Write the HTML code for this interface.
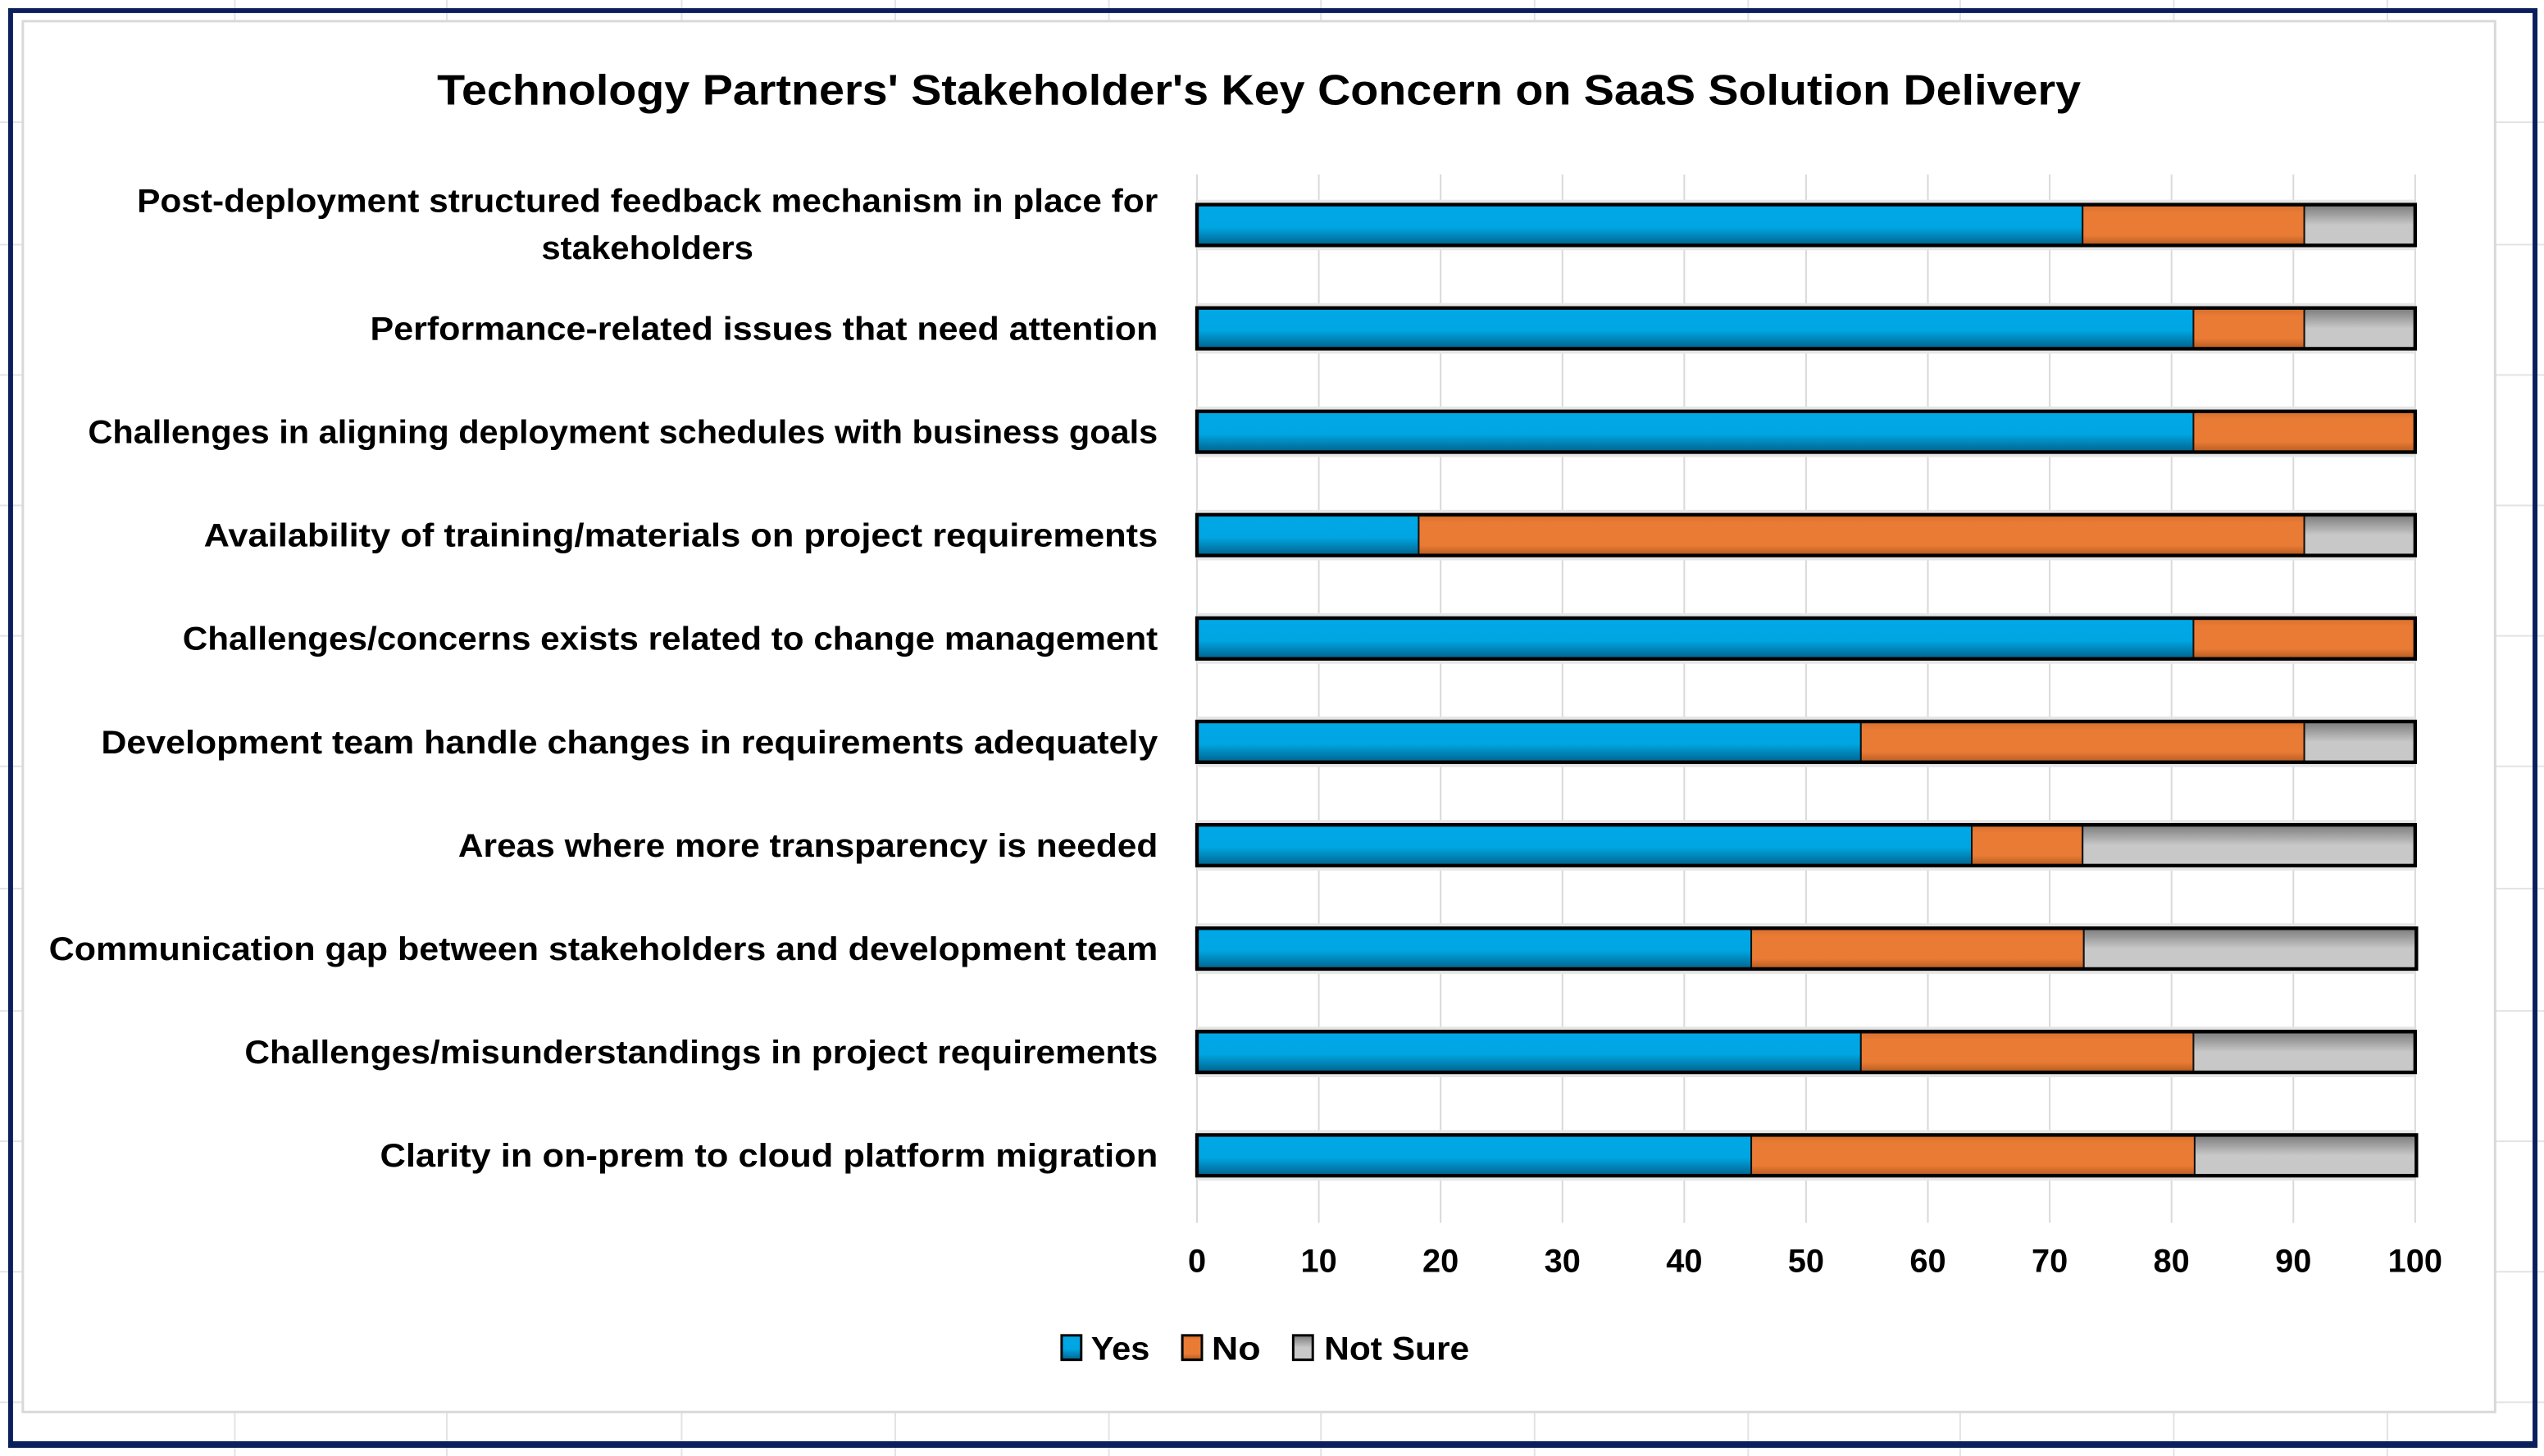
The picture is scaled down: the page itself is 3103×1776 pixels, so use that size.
<!DOCTYPE html>
<html><head><meta charset="utf-8"><style>
html,body{margin:0;padding:0;background:#fff;}
svg{display:block;font-family:"Liberation Sans",Arial,sans-serif;}
</style></head><body>
<svg id="chart" width="3103" height="1776" viewBox="0 0 1560 893" preserveAspectRatio="none" xmlns="http://www.w3.org/2000/svg">
<defs>
<linearGradient id="gYes" x1="0" y1="0" x2="0" y2="1"><stop offset="0" stop-color="#00a8e6"/><stop offset="0.55" stop-color="#00a6e2"/><stop offset="1" stop-color="#00628c"/></linearGradient>
<linearGradient id="gNo" x1="0" y1="0" x2="0" y2="1"><stop offset="0" stop-color="#d66e2c"/><stop offset="0.2" stop-color="#e97b35"/><stop offset="0.75" stop-color="#e97b35"/><stop offset="1" stop-color="#b45a20"/></linearGradient>
<linearGradient id="gNs" x1="0" y1="0" x2="0" y2="1"><stop offset="0" stop-color="#7a7a7a"/><stop offset="0.5" stop-color="#c8c8c8"/><stop offset="1" stop-color="#c8c8c8"/></linearGradient>
</defs>
<g id="bg"></g>
<rect x="14" y="13" width="1516" height="853" fill="#fff" stroke="#d9d9d9" stroke-width="1.5"/>
<rect x="6.5" y="6.5" width="1548" height="879" fill="none" stroke="#0a1f5c" stroke-width="3"/>
<line x1="5" y1="886" x2="1556" y2="886" stroke="#0a1f5c" stroke-width="4"/>
<text x="772" y="64" text-anchor="middle" font-size="26" font-weight="bold" textLength="1008" lengthAdjust="spacingAndGlyphs">Technology Partners' Stakeholder's  Key Concern on SaaS Solution Delivery</text>
<g id="grid"></g>
<g id="bars"></g>
<g id="labels"></g>
<g id="ticks"></g>
<g font-weight="bold">
<rect x="651" y="819" width="12" height="15" fill="url(#gYes)" stroke="#000" stroke-width="1.5"/>
<text x="669" y="834" font-size="20" textLength="36" lengthAdjust="spacingAndGlyphs">Yes</text>
<rect x="725" y="819" width="12" height="15" fill="url(#gNo)" stroke="#000" stroke-width="1.5"/>
<text x="743" y="834" font-size="20" textLength="30" lengthAdjust="spacingAndGlyphs">No</text>
<rect x="793" y="819" width="12" height="15" fill="url(#gNs)" stroke="#000" stroke-width="1.5"/>
<text x="812" y="834" font-size="20" textLength="89" lengthAdjust="spacingAndGlyphs">Not Sure</text>
</g>
</svg>
<script>
const categories = [
 ["Post-deployment structured feedback mechanism in place for","stakeholders"],
 ["Performance-related issues that need attention"],
 ["Challenges in aligning deployment schedules with business goals"],
 ["Availability of training/materials on project requirements"],
 ["Challenges/concerns exists related to change management"],
 ["Development team handle changes in requirements adequately"],
 ["Areas where more transparency is needed"],
 ["Communication gap between stakeholders and development team"],
 ["Challenges/misunderstandings in project requirements"],
 ["Clarity in  on-prem to cloud platform migration"]
];
const yesValues = [72.7, 81.8, 81.8, 18.2, 81.8, 54.5, 63.6, 45.5, 54.5, 45.5];
const noValues = [18.2, 9.1, 18.2, 72.7, 18.2, 36.4, 9.1, 27.3, 27.3, 36.4];
const notSureValues = [9.1, 9.1, 0, 9.1, 0, 9.1, 27.3, 27.3, 18.2, 18.2];
const tickLabels = [0,10,20,30,40,50,60,70,80,90,100];

const labelWidths = [[626,130],[483],[656],[585],[598],[648],[429],[680],[560],[477]];
const NS="http://www.w3.org/2000/svg";
const x0=734, x1=1481, plotTop=107, barH=25;
const xs=v=>x0+(x1-x0)*v/100;
const yc=i=>138+i*63.4;
function mk(tag,attrs,parent){const e=document.createElementNS(NS,tag);for(const k in attrs)e.setAttribute(k,attrs[k]);parent.appendChild(e);return e;}
const bg=document.getElementById('bg');
[144,274,418,549,680,810,941,1072,1202,1333,1464].forEach(x=>{const l=mk('line',{x1:x,y1:0,x2:x,y2:893,stroke:'#e3e3e3','stroke-width':1},bg);

});
[75,150,230,310,390,470,545,620,700,780,860].forEach(y=>{const l=mk('line',{x1:0,y1:y,x2:1560,y2:y,stroke:'#e3e3e3','stroke-width':1},bg);

});
const grid=document.getElementById('grid');
tickLabels.forEach(t=>{const l=mk('line',{x1:xs(t),y1:plotTop,x2:xs(t),y2:750,stroke:'#d9d9d9','stroke-width':1},grid);

});
const ticks=document.getElementById('ticks');
tickLabels.forEach(t=>{const e=mk('text',{x:xs(t),y:780,'text-anchor':'middle','font-size':20,'font-weight':'bold'},ticks);e.textContent=t;

});
const bars=document.getElementById('bars');
const labels=document.getElementById('labels');
categories.forEach((c,i)=>{
 const y=yc(i)-barH/2;
 mk('rect',{x:x0,y:y-3,width:x1-x0,height:barH+6,fill:'#e6e6e6'},bars);
 const segs=[[yesValues[i],'url(#gYes)','bar-yes'],[noValues[i],'url(#gNo)','bar-no'],[notSureValues[i],'url(#gNs)','bar-not-sure']];
 let acc=0;
 segs.forEach(s=>{if(s[0]<=0)return;const r=mk('rect',{x:xs(acc),y:y,width:xs(acc+s[0])-xs(acc),height:barH,fill:s[1],stroke:'#111','stroke-width':1},bars);
 
 
 acc+=s[0];});
 const o=mk('rect',{x:x0,y:y,width:xs(acc)-x0,height:barH,fill:'none',stroke:'#000','stroke-width':2.2},bars);
 
 
 c.forEach((ln,j)=>{
  const two=c.length===2;
  const yy = two ? yc(i)-8+j*29 : yc(i)+7;
  const cx = two && j===1 ? 397 : 710;
  const t=mk('text',{x:cx,y:yy,'text-anchor':(two&&j===1)?'middle':'end','font-size':20,'font-weight':'bold',textLength:labelWidths[i][j],lengthAdjust:'spacingAndGlyphs'},labels);
  t.textContent=ln;
  
  
 });
});
</script>
</body></html>
